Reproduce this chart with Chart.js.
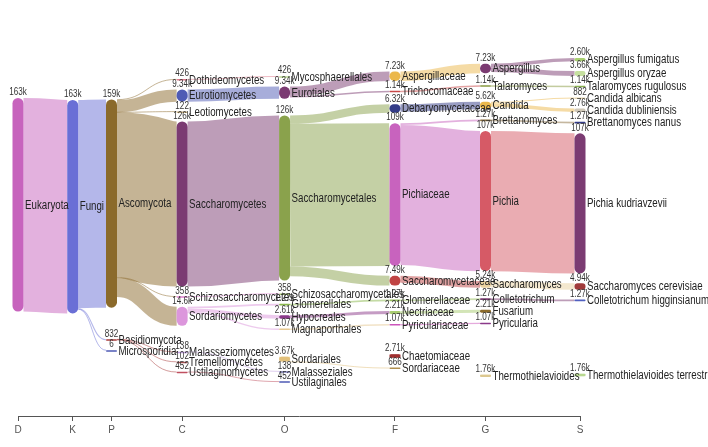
<!DOCTYPE html>
<html><head><meta charset="utf-8">
<script src="https://cdn.jsdelivr.net/npm/chart.js@4.4.1/dist/chart.umd.min.js"></script>
<style>html,body{margin:0;padding:0;background:#fff;}#wrap{width:708px;height:447px;}</style>
</head><body><div id="wrap"><canvas id="c" width="708" height="447"></canvas></div>
<script>
// ---------- DATA ----------
const rankLabels = ['D','K','P','C','O','F','G','S'];
const nodeNames = ['Eukaryota','Fungi','Ascomycota','Dothideomycetes','Mycosphaerellales','Eurotiomycetes','Eurotiales','Aspergillaceae','Aspergillus','Aspergillus fumigatus','Aspergillus oryzae','Trichocomaceae','Talaromyces','Talaromyces rugulosus','Leotiomycetes','Saccharomycetes','Saccharomycetales','Debaryomycetaceae','Candida','Candida albicans','Candida dubliniensis','Pichiaceae','Brettanomyces','Brettanomyces nanus','Pichia','Pichia kudriavzevii','Saccharomycetaceae','Saccharomyces','Saccharomyces cerevisiae','Schizosaccharomycetes','Schizosaccharomycetales','Sordariomycetes','Glomerellales','Glomerellaceae','Colletotrichum','Colletotrichum higginsianum','Hypocreales','Nectriaceae','Fusarium','Magnaporthales','Pyriculariaceae','Pyricularia','Sordariales','Chaetomiaceae','Thermothielavioides','Thermothielavioides terrestris','Sordariaceae','Basidiomycota','Malasseziomycetes','Malasseziales','Tremellomycetes','Ustilaginomycetes','Ustilaginales','Microsporidia'];
const nodeRanks = ['D','K','P','C','O','C','O','F','G','S','S','F','G','S','C','C','O','F','G','S','S','F','G','S','G','S','F','G','S','C','O','C','O','F','G','S','O','F','G','O','F','G','O','F','G','S','F','P','C','O','C','C','O','P'];
const nodeValues = [163000,163000,159000,426,426,9340,9340,7230,7230,2600,3660,1140,1140,1140,122,126000,126000,6320,5620,882,2760,109000,1270,1270,107000,107000,7490,5240,4940,358,358,14600,1270,1270,1270,1270,2610,2210,2210,1070,1070,1070,3670,2710,1760,1760,666,832,138,138,102,452,452,6];
const nodeParents = [null,'Eukaryota','Fungi','Ascomycota','Dothideomycetes','Ascomycota','Eurotiomycetes','Eurotiales','Aspergillaceae','Aspergillus','Aspergillus','Eurotiales','Trichocomaceae','Talaromyces','Ascomycota','Ascomycota','Saccharomycetes','Saccharomycetales','Debaryomycetaceae','Candida','Candida','Saccharomycetales','Pichiaceae','Brettanomyces','Pichiaceae','Pichia','Saccharomycetales','Saccharomycetaceae','Saccharomyces','Ascomycota','Schizosaccharomycetes','Ascomycota','Sordariomycetes','Glomerellales','Glomerellaceae','Colletotrichum','Sordariomycetes','Hypocreales','Nectriaceae','Sordariomycetes','Magnaporthales','Pyriculariaceae','Sordariales','Chaetomiaceae','Thermothielavioides','Thermothielavioides terrestris','Sordariales','Fungi','Basidiomycota','Malasseziomycetes','Basidiomycota','Basidiomycota','Ustilaginomycetes','Fungi'];

// ---------- STYLE ----------
const nodeColors = ['#c763bd','#6a6fd6','#8b6a2b','#e07a8c','#b8d890','#4f5bb5','#7b3b72','#ebb84c','#7b3b72','#a8d070','#c6e0a0','#c84848','#889a40','#88b050','#c8b080','#7b3b72','#8aa24c','#343c88','#ebb84c','#e6d6b0','#d0c8b8','#c863be','#8b7040','#343c88','#d65a66','#7b3b72','#c04444','#ead2a0','#a03a3a','#e080d0','#a8c870','#dc96dc','#8ab84c','#9ac060','#7b3b72','#5060c0','#8b3a8a','#a8cc70','#8b6a2b','#e6c890','#cc55bb','#8b3a8a','#e2c07a','#a03030','#dcc890','#b8d890','#b09050','#a83a3a','#c0a0e0','#8080c0','#a05050','#c05060','#4f5bb5','#4f5bb5'];
const FONT='"Liberation Sans",Arial,sans-serif', NARROW=0.81, NODE_W=11, LINK_ALPHA=0.5, CHAR_GAP=4.75;
// layout constants (read units)
const PAD=7500, EXTENT=283000, ITER=10, WEIGHT_POW=0.5, FAN=0.5, DAMP=0.5;
const Y_MIN=-6100, Y_MAX=305400;

// ---------- LAYOUT ----------
function build(){
  const nodes = nodeNames.map((name,i)=>({name,i,rank:rankLabels.indexOf(nodeRanks[i]),value:nodeValues[i],color:nodeColors[i],sourceLinks:[],targetLinks:[]}));
  const by={}; nodes.forEach(n=>by[n.name]=n); const links=[];
  nodes.forEach((n,i)=>{const p=nodeParents[i]; if(p){const s=by[p]; const l={source:s,target:n,value:n.value}; links.push(l); s.sourceLinks.push(l); n.targetLinks.push(l);}});
  const cols=rankLabels.map(()=>[]); nodes.forEach(n=>cols[n.rank].push(n));
  return {nodes,cols,links};
}
// value-weighted link alignment (fan offsets) with hard collisions inside [0, EXTENT]
function layout(){
  const g=build(), cols=g.cols;
  const off=(s,t)=>{let y=-(s.sourceLinks.length-1)*PAD*FAN/2; for(const l of s.sourceLinks){if(l.target===t)break;y+=l.value+PAD*FAN;} return y;};
  g.links.forEach(l=>{l.off=off(l.source,l.target); l.w=Math.pow(l.value,WEIGHT_POW);});
  function res(col){ let y=0; for(const n of col){ if(n.y0<y){n.y0=y;} y=n.y0+n.value+PAD; }
    let yb=EXTENT; for(let i=col.length-1;i>=0;i--){const n=col[i]; if(n.y0+n.value>yb){n.y0=yb-n.value;} yb=n.y0-PAD;}
    y=0; for(const n of col){ if(n.y0<y){n.y0=y;} y=n.y0+n.value+PAD; } }
  function upd(col){ for(const n of col){ let s=0,w=0;
      for(const l of n.targetLinks){s+=(l.source.y0+l.off)*l.w; w+=l.w;}
      for(const l of n.sourceLinks){s+=(l.target.y0-l.off)*l.w; w+=l.w;}
      if(w>0) n.y0+=(s/w-n.y0)*DAMP; } res(col); }
  cols.forEach(col=>{let y=0; col.forEach(n=>{n.y0=y;y+=n.value+PAD;}); const sl=(EXTENT-y+PAD)/(col.length+1); col.forEach((n,i)=>n.y0+=sl*(i+1));});
  for(let it=0;it<ITER;it++){ for(let i=0;i<cols.length;i++) upd(cols[i]); for(let i=cols.length-1;i>=0;i--) upd(cols[i]); }
  g.nodes.forEach(n=>n.y1=n.y0+n.value);
  return g;
}
const {nodes,cols,links}=layout();
nodes.forEach(n=>{ let sy=n.y0; n.sourceLinks.forEach(l=>{l.sy=sy; sy+=l.value;}); let ty=n.y0; n.targetLinks.forEach(l=>{l.ty=ty; ty+=l.value;}); });
// column spacing scaled by the longest name in each column
const colPos=[0];
for(let i=0;i<rankLabels.length-1;i++){ colPos.push(colPos[i]+Math.max(...cols[i].map(n=>n.name.length))+CHAR_GAP); }

function fmt(v){ return v<1000 ? String(v) : (v/1000).toPrecision(3)+'k'; }
function rgba(hex,a){ const h=hex.replace('#',''); return `rgba(${parseInt(h.substr(0,2),16)},${parseInt(h.substr(2,2),16)},${parseInt(h.substr(4,2),16)},${a})`; }
function narrowText(ctx,txt,x,y){ ctx.save(); ctx.translate(x,y); ctx.scale(NARROW,1); ctx.fillText(txt,0,0); ctx.restore(); }

// ---------- DRAW ----------
const sankeyPlugin={id:'sankey',afterDatasetsDraw(chart){
  const ctx=chart.ctx, xs=chart.scales.x, ys=chart.scales.y;
  const X=r=>xs.getPixelForValue(colPos[r]), Y=v=>ys.getPixelForValue(v);
  ctx.save(); ctx.lineCap='butt';
  links.forEach(l=>{ const x0=X(l.source.rank)+NODE_W/2, x1=X(l.target.rank)-NODE_W/2;
    const y0=Y(l.sy+l.value/2), y1=Y(l.ty+l.value/2), w=Math.max(1,Y(l.value)-Y(0)), xm=(x0+x1)/2;
    ctx.strokeStyle=rgba(l.source.color,LINK_ALPHA); ctx.lineWidth=w;
    ctx.beginPath(); ctx.moveTo(x0,y0); ctx.bezierCurveTo(xm,y0,xm,y1,x1,y1); ctx.stroke(); });
  nodes.forEach(n=>{ const x=X(n.rank)-NODE_W/2, yt=Y(n.y0), h=Math.max(1.5,Y(n.y1)-yt), r=Math.min(5.5,h/2,NODE_W/2);
    ctx.fillStyle=n.color; ctx.beginPath(); ctx.roundRect(x,yt,NODE_W,h,r); ctx.fill(); n.px={x,yt,h}; });
  nodes.forEach(n=>{ const {x,yt,h}=n.px;
    ctx.fillStyle='#333'; ctx.font=`10px ${FONT}`; ctx.textAlign='center'; ctx.textBaseline='bottom'; narrowText(ctx,fmt(n.value),x+NODE_W/2,yt-0.5);
    ctx.fillStyle='#222'; ctx.font=`12px ${FONT}`; ctx.textAlign='left'; ctx.textBaseline='middle'; narrowText(ctx,n.name,x+NODE_W+1.5,yt+h/2+0.5); });
  ctx.restore(); }};

new Chart(document.getElementById('c'),{type:'scatter',data:{datasets:[]},options:{responsive:false,animation:false,devicePixelRatio:1,
  layout:{padding:{left:18,right:128,top:8,bottom:8}},plugins:{legend:{display:false},tooltip:{enabled:false}},
  scales:{x:{type:'linear',min:colPos[0],max:colPos[colPos.length-1],afterBuildTicks:s=>{s.ticks=colPos.map(v=>({value:v}));},
    ticks:{autoSkip:false,maxRotation:0,padding:3,color:'#555',font:{family:FONT,size:10},callback:(v,i)=>rankLabels[i]},
    grid:{drawOnChartArea:false,drawTicks:true,tickLength:5,color:'#555'},border:{display:true,color:'#555',width:1}},
    y:{type:'linear',display:false,reverse:true,min:Y_MIN,max:Y_MAX}}},plugins:[sankeyPlugin]});
</script></body></html>
